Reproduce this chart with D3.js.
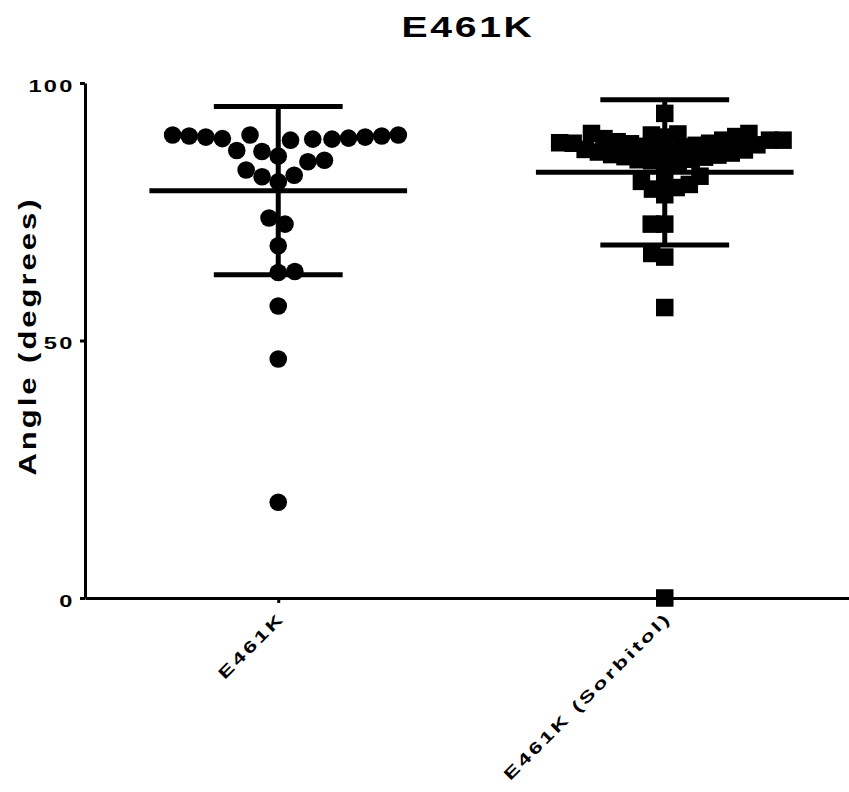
<!DOCTYPE html>
<html lang="en">
<head>
<meta charset="utf-8" />
<title>E461K</title>
<script src="https://d3js.org/d3.v7.min.js"></script>
<style>
  body { margin: 0; background: #fff; }
  text { font-family: "Liberation Sans", Arial, sans-serif; font-weight: bold; fill: #000; }
</style>
</head>
<body>
<div id="chart"></div>
<script>
const groups = ["E461K", "E461K (Sorbitol)"];
const e461k = [89.9, 89.9, 89.7, 89.5, 89.2, 89.1, 88.9, 89.1, 89.3, 89.5, 89.7, 89.9,
  86.7, 85.8, 86.9, 84.7, 85.0, 82.1, 83.1, 80.8, 81.8, 73.8, 72.6, 68.4,
  63.4, 63.2, 56.7, 46.4, 18.6];
const sorbitol = [94.1, 90.2, 89.6, 88.9, 88.9, 90.2, 90.1, 89.5, 88.6, 88.9, 89.2, 89.9, 88.3, 88.3,
  88.4, 88.2, 88.0, 87.9, 87.7, 87.6, 87.3, 87.1, 87.0, 86.7, 86.6, 86.4, 86.1, 86.0,
  85.7, 85.6, 85.2, 85.1, 84.9, 84.5, 84.3,
  81.9, 80.9, 79.7, 78.3, 79.4, 80.3, 81.2,
  72.6, 72.6, 66.2, 66.9, 56.4, 0];
const yTicks = [0, 50, 100];

const W = 849, H = 792;

const svg = d3.select("#chart").append("svg")
  .attr("width", W).attr("height", H);

const y = d3.scaleLinear().domain([0, 100]).range([598, 83]);
const x = d3.scalePoint().domain(groups).range([85, 858]).padding(0.5);
const step = x.step();

// title
svg.append("text")
  .attr("transform", "translate(468,37) scale(1.35,1)")
  .attr("text-anchor", "middle")
  .style("font-size", "29px")
  .style("letter-spacing", "2px")
  .text("E461K");

// y axis
const yAxis = svg.append("g")
  .attr("transform", "translate(85,0)")
  .call(d3.axisLeft(y).tickValues(yTicks).tickSize(5).tickSizeOuter(0));
yAxis.select(".domain").attr("stroke-width", 3);
yAxis.selectAll(".tick line").attr("stroke-width", 3);
yAxis.selectAll(".tick text")
  .attr("x", -10.5 / 1.45)
  .attr("dy", "0.52em")
  .attr("transform", "scale(1.45,1)")
  .style("font-size", "16.3px")
  .style("font-family", "'Liberation Sans', Arial, sans-serif")
  .style("font-weight", "bold")
  .style("letter-spacing", "1.5px");

svg.append("text")
  .attr("transform", "translate(36,336) rotate(-90) scale(1.35,1)")
  .attr("text-anchor", "middle")
  .style("font-size", "23px")
  .style("letter-spacing", "2.2px")
  .text("Angle (degrees)");

// x axis
const xAxis = svg.append("g")
  .attr("transform", "translate(0,598)")
  .call(d3.axisBottom(x).tickSize(5).tickSizeOuter(0));
xAxis.select(".domain").attr("stroke-width", 3);
xAxis.selectAll(".tick line").attr("stroke-width", 3);
xAxis.selectAll(".tick text")
  .attr("x", null).attr("y", null).attr("dy", null)
  .attr("text-anchor", "end")
  .attr("transform", "translate(7,21) rotate(-45) scale(1.45,1)")
  .style("font-size", "16px")
  .style("font-family", "'Liberation Sans', Arial, sans-serif")
  .style("font-weight", "bold")
  .style("letter-spacing", "2.1px");

// simple beeswarm: place points low to high, nearest free spot to the centre
// k < 1 squeezes vertical distance so close rows spread sideways
function swarm(values, diam, k) {
  const pts = values.map(v => ({ v: v, py: y(v) })).sort((a, b) => a.v - b.v);
  const placed = [];
  pts.forEach((p, i) => {
    const cands = [0];
    placed.forEach(q => {
      const dy = Math.abs(q.py - p.py) * k;
      if (dy < diam) {
        const dx = Math.sqrt(diam * diam - dy * dy);
        cands.push(q.dx - dx, q.dx + dx);
      }
    });
    cands.sort((a, b) => (Math.abs(a) - Math.abs(b)) || (i % 2 ? a - b : b - a));
    p.dx = cands.find(c => placed.every(q => {
      const dy = (q.py - p.py) * k;
      return (q.dx - c) * (q.dx - c) + dy * dy >= diam * diam - 0.01;
    }));
    placed.push(p);
  });
  return placed;
}

const cx1 = x(groups[0]), cx2 = x(groups[1]);

svg.append("g").selectAll("circle")
  .data(swarm(e461k, 16.6, 0.7))
  .join("circle")
  .attr("cx", d => cx1 + d.dx)
  .attr("cy", d => d.py)
  .attr("r", 8.8)
  .attr("fill", "#000");

const sq = 17.5;
svg.append("g").selectAll("rect")
  .data(swarm(sorbitol, 13.5, 1))
  .join("rect")
  .attr("x", d => cx2 + d.dx - sq / 2)
  .attr("y", d => d.py - sq / 2)
  .attr("width", sq)
  .attr("height", sq)
  .attr("fill", "#000");

// mean +/- SD bars
[[groups[0], e461k], [groups[1], sorbitol]].forEach(([g, vals]) => {
  const m = d3.mean(vals), s = d3.deviation(vals), cx = x(g);
  const bars = svg.append("g").attr("stroke", "#000").attr("stroke-width", 5);
  bars.append("line").attr("x1", cx).attr("x2", cx).attr("y1", y(m + s)).attr("y2", y(m - s));
  bars.append("line").attr("x1", cx - step / 6).attr("x2", cx + step / 6).attr("y1", y(m + s)).attr("y2", y(m + s));
  bars.append("line").attr("x1", cx - step / 6).attr("x2", cx + step / 6).attr("y1", y(m - s)).attr("y2", y(m - s));
  bars.append("line").attr("x1", cx - step / 3).attr("x2", cx + step / 3).attr("y1", y(m)).attr("y2", y(m));
});
</script>
</body>
</html>
